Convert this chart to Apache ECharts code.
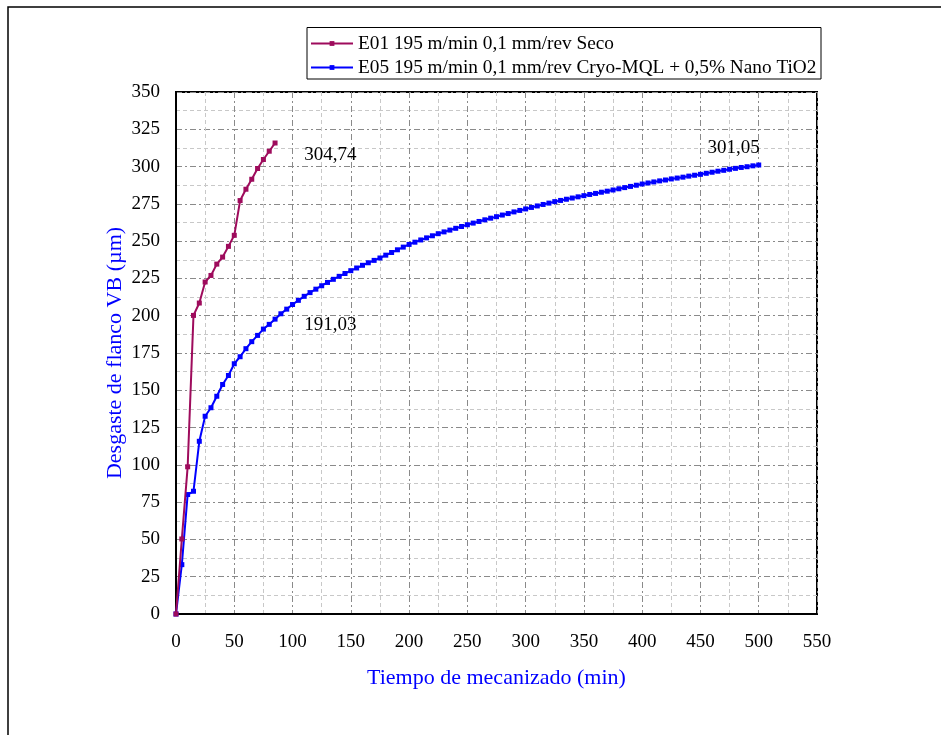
<!DOCTYPE html>
<html>
<head>
<meta charset="utf-8">
<script src="https://cdn.jsdelivr.net/npm/echarts@6/dist/echarts.min.js"></script>
<style>
  html, body { margin: 0; padding: 0; background: #fff; }
  #chart { width: 941px; height: 735px; }
</style>
</head>
<body>
<div id="chart"></div>
<script>
// Flank wear VB (µm) against machining time (min), one reading every 5 minutes
const seriesNames = [
  'E01 195 m/min 0,1 mm/rev Seco',
  'E05 195 m/min 0,1 mm/rev Cryo-MQL + 0,5% Nano TiO2'
];

const timeE01 = [0, 5, 10, 15, 20, 25, 30, 35, 40, 45, 50, 55, 60, 65, 70, 75, 80, 85];
const wearE01 = [0, 50.3, 98.7, 200.2, 208.5, 222.6, 227.0, 234.6, 239.3, 246.5, 253.9,
  277.2, 284.8, 291.5, 298.7, 304.74, 310.3, 315.8];

const timeE05 = [
  0, 5, 10, 15, 20, 25, 30, 35, 40, 45, 50, 55, 60, 65, 70, 75, 80, 85, 90, 95,
  100, 105, 110, 115, 120, 125, 130, 135, 140, 145, 150, 155, 160, 165, 170, 175, 180, 185, 190, 195,
  200, 205, 210, 215, 220, 225, 230, 235, 240, 245, 250, 255, 260, 265, 270, 275, 280, 285, 290, 295,
  300, 305, 310, 315, 320, 325, 330, 335, 340, 345, 350, 355, 360, 365, 370, 375, 380, 385, 390, 395,
  400, 405, 410, 415, 420, 425, 430, 435, 440, 445, 450, 455, 460, 465, 470, 475, 480, 485, 490, 495,
  500
];
const wearE05 = [
  0, 33.1, 80.1, 82.3, 115.8, 132.6, 138.3, 146.0, 153.9, 159.9,
  167.8, 172.5, 177.9, 182.6, 186.8, 191.03, 194.2, 197.7, 201.3, 204.4,
  207.5, 210.3, 213.0, 215.5, 217.8, 220.1, 222.3, 224.4, 226.4, 228.3,
  230.2, 232.0, 233.8, 235.5, 237.1, 238.7, 240.6, 242.4, 244.2, 246.0,
  247.8, 249.3, 250.8, 252.2, 253.6, 255.0, 256.2, 257.4, 258.6, 259.8,
  261.0, 262.1, 263.2, 264.3, 265.4, 266.4, 267.5, 268.5, 269.6, 270.6,
  271.6, 272.6, 273.6, 274.6, 275.5, 276.5, 277.3, 278.1, 278.9, 279.7,
  280.5, 281.3, 282.0, 282.8, 283.5, 284.3, 285.1, 285.9, 286.7, 287.5,
  288.3, 289.0, 289.7, 290.4, 291.0, 291.7, 292.3, 292.9, 293.6, 294.2,
  294.8, 295.5, 296.2, 296.9, 297.5, 298.2, 298.8, 299.4, 299.9, 300.5,
  301.05
];

// Axis scales
const xMin = 0, xMax = 550, xStep = 50;
const yMin = 0, yMax = 350, yStep = 25;

const FONT = "'Liberation Serif', 'Times New Roman', serif";
const COLOR_E01 = '#9e0b5c';
const COLOR_E05 = '#0000ff';

const pairs = (xs, ys) => xs.map((x, i) => [x, ys[i]]);
const fmt = v => v.toFixed(2).replace('.', ',');

// index of the 75-minute reading, used for the comparison labels
const i75a = timeE01.indexOf(75);
const i75b = timeE05.indexOf(75);
const iLast = timeE05.length - 1;

const valueLabel = (offset) => ({
  show: true,
  position: 'inside',
  offset: offset,
  formatter: p => fmt(p.value),
  fontFamily: FONT, fontSize: 19, color: '#000'
});

const chart = echarts.init(document.getElementById('chart'), null, { renderer: 'canvas' });

chart.setOption({
  animation: false,
  backgroundColor: '#fff',
  textStyle: { fontFamily: FONT },
  graphic: [
    { type: 'rect', shape: { x: 8, y: 7, width: 1200, height: 1200 },
      style: { fill: 'none', stroke: '#000', lineWidth: 1.5 }, z: -1 },
    { type: 'rect', shape: { x: 307, y: 27.5, width: 514, height: 51.5 },
      style: { fill: '#fff', stroke: '#000', lineWidth: 1 }, z: 0 }
  ],
  legend: {
    orient: 'vertical',
    left: 305, top: 29,
    itemWidth: 42, itemHeight: 6, itemGap: 5,
    textStyle: { fontFamily: FONT, fontSize: 19.3, color: '#000' },
    data: seriesNames,
    z: 5
  },
  grid: {
    left: 176, top: 92, width: 641, height: 522,
    show: true, borderColor: '#000', borderWidth: 2, backgroundColor: 'transparent'
  },
  xAxis: {
    type: 'value', min: xMin, max: xMax, interval: xStep,
    name: 'Tiempo de mecanizado (min)', nameLocation: 'middle', nameGap: 53,
    nameTextStyle: { color: '#0000ff', fontFamily: FONT, fontSize: 22 },
    axisLine: { show: true, lineStyle: { color: '#000', width: 2 } },
    axisTick: { show: false },
    axisLabel: { margin: 19, color: '#000', fontFamily: FONT, fontSize: 19 },
    splitLine: { show: true, lineStyle: { color: '#8a8a8a', width: 1, type: [6, 3, 2, 3] } },
    minorTick: { show: false, splitNumber: 2 },
    minorSplitLine: { show: true, lineStyle: { color: '#c8c8c8', width: 1, type: [4, 3] } }
  },
  yAxis: {
    type: 'value', min: yMin, max: yMax, interval: yStep,
    name: 'Desgaste de flanco VB (µm)', nameLocation: 'middle', nameGap: 50,
    nameMoveOverlap: false,
    nameTextStyle: { color: '#0000ff', fontFamily: FONT, fontSize: 22 },
    axisLine: { show: true, lineStyle: { color: '#000', width: 2 } },
    axisTick: { show: false },
    axisLabel: { margin: 16, color: '#000', fontFamily: FONT, fontSize: 19 },
    splitLine: { show: true, lineStyle: { color: '#8a8a8a', width: 1, type: [6, 3, 2, 3] } },
    minorTick: { show: false, splitNumber: 2 },
    minorSplitLine: { show: true, lineStyle: { color: '#c8c8c8', width: 1, type: [4, 3] } }
  },
  series: [
    {
      name: seriesNames[0], type: 'line',
      data: pairs(timeE01, wearE01),
      color: COLOR_E01,
      lineStyle: { width: 2, color: COLOR_E01 },
      symbol: 'rect', symbolSize: 5,
      itemStyle: { color: COLOR_E01 },
      z: 3,
      markPoint: {
        symbol: 'circle', symbolSize: 1, itemStyle: { color: 'transparent' },
        data: [{ coord: [timeE01[i75a], wearE01[i75a]], value: wearE01[i75a],
          label: valueLabel([67, -4]) }]
      }
    },
    {
      name: seriesNames[1], type: 'line',
      data: pairs(timeE05, wearE05),
      color: COLOR_E05,
      lineStyle: { width: 2, color: COLOR_E05 },
      symbol: 'rect', symbolSize: 5,
      itemStyle: { color: COLOR_E05 },
      z: 2,
      markPoint: {
        symbol: 'circle', symbolSize: 1, itemStyle: { color: 'transparent' },
        data: [
          { coord: [timeE05[i75b], wearE05[i75b]], value: wearE05[i75b],
            label: valueLabel([67, -4]) },
          { coord: [timeE05[iLast], wearE05[iLast]], value: wearE05[iLast],
            label: valueLabel([-25, -17]) }
        ]
      }
    }
  ]
});
</script>
</body>
</html>
